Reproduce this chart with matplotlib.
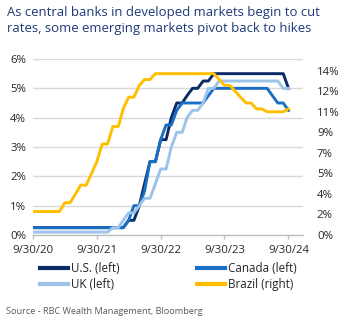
import numpy as np
import pandas as pd
import matplotlib
matplotlib.use("Agg")
import matplotlib.pyplot as plt
import matplotlib.dates as mdates
from matplotlib.lines import Line2D

# ---------------- data (month-end policy rates, %) ----------------
dates = pd.date_range("2020-09-30", "2024-09-30", freq="ME")

us = ([0.25] * 18 +
      [0.5, 0.5, 1.0, 1.75, 2.5, 2.5, 3.25, 3.25, 4.0, 4.5,
       4.5, 4.75, 5.0, 5.0, 5.25, 5.25, 5.5] +
      [5.5] * 13 + [5.0])

canada = ([0.25] * 18 +
          [0.5, 1.0, 1.0, 1.5, 2.5, 2.5, 3.25, 3.75, 3.75, 4.25,
           4.5, 4.5, 4.5, 4.5, 4.5, 4.75, 5.0] +
          [5.0] * 10 + [4.75, 4.5, 4.5, 4.25])

uk = ([0.1] * 15 +
      [0.25, 0.25, 0.5, 0.75, 0.75, 1.0, 1.25, 1.25, 1.75, 2.25,
       2.25, 3.0, 3.5, 3.5, 4.0, 4.25, 4.25, 4.5, 5.0, 5.0] +
      [5.25] * 12 + [5.0, 5.0])

brazil = ([2.0] * 6 +
          [2.75, 2.75, 3.5, 4.25, 4.25, 5.25, 6.25, 7.75, 7.75, 9.25,
           9.25, 10.75, 11.75, 11.75, 12.75, 13.25, 13.25] +
          [13.75] * 12 +
          [13.25, 12.75, 12.75, 12.25, 11.75, 11.25, 11.25, 10.75, 10.75,
           10.5, 10.5, 10.5, 10.5, 10.75])

series_names = ["U.S. (left)", "Canada (left)", "UK (left)", "Brazil (right)"]
left_ticks = [0, 1, 2, 3, 4, 5, 6]
left_labels = ["0%", "1%", "2%", "3%", "4%", "5%", "6%"]
right_ticks = [0, 1.75, 3.5, 5.25, 7, 8.75, 10.5, 12.25, 14]
right_labels = ["0%", "2%", "4%", "5%", "7%", "9%", "11%", "12%", "14%"]
x_tick_dates = ["2020-09-30", "2021-09-30", "2022-09-30", "2023-09-30", "2024-09-30"]
x_tick_labels = ["9/30/20", "9/30/21", "9/30/22", "9/30/23", "9/30/24"]

title = ("As central banks in developed markets begin to cut\n"
         "rates, some emerging markets pivot back to hikes")
source = "Source - RBC Wealth Management, Bloomberg"

# ---------------- style ----------------
C_US = "#0c2a66"
C_CA = "#1a6fc4"
C_UK = "#9cc3ea"
C_BR = "#ffbf00"
TXT = "#262626"
FONT = "Open Sans"
plt.rcParams["font.family"] = [FONT, "DejaVu Sans"]

W, H = 347, 326
fig = plt.figure(figsize=(W / 100, H / 100), dpi=100)

def fx(px):
    return px / W

def fy(py):
    return 1 - py / H

ax = fig.add_axes([fx(33), fy(235), fx(303) - fx(33), fy(59) - fy(235)])
ax2 = ax.twinx()

lw = 2.1
l_us, = ax.plot(dates, us, color=C_US, lw=lw, solid_joinstyle="round", zorder=3)
l_ca, = ax.plot(dates, canada, color=C_CA, lw=lw, solid_joinstyle="round", zorder=4)
l_uk, = ax.plot(dates, uk, color=C_UK, lw=lw, solid_joinstyle="round", zorder=5)
l_br, = ax2.plot(dates, brazil, color=C_BR, lw=lw, solid_joinstyle="round", zorder=3)

ax.set_ylim(0, 6)
ax2.set_ylim(0, 15)
ax.set_xlim(pd.Timestamp("2020-09-30"), pd.Timestamp("2024-12-22"))

ax.set_yticks(left_ticks)
ax.set_yticklabels(left_labels)
ax2.set_yticks(right_ticks)
ax2.set_yticklabels(right_labels)

xt = [pd.Timestamp(d) for d in x_tick_dates]
ax.set_xticks(xt)
ax.set_xticklabels(x_tick_labels)

ax.grid(axis="y", color="#d9d9d9", lw=1.0)
ax.set_axisbelow(True)

for a in (ax, ax2):
    for s in ("top", "right", "left"):
        a.spines[s].set_visible(False)
    a.spines["bottom"].set_visible(False)
ax.spines["bottom"].set_visible(True)
ax.spines["bottom"].set_color("#bfbfbf")
ax.spines["bottom"].set_linewidth(1.0)

ax.tick_params(axis="y", length=0, pad=5, labelsize=8.2, labelcolor=TXT)
ax2.tick_params(axis="y", length=0, pad=10, labelsize=8.2, labelcolor=TXT)
ax.tick_params(axis="x", length=3, width=1, color="#bfbfbf", pad=4,
               labelsize=8.2, labelcolor=TXT)

# title
fig.text(fx(7), fy(6), title, ha="left", va="top", fontsize=9.45,
         color="#1f3a78", linespacing=1.33)

# legends
h1 = [Line2D([], [], color=C_US, lw=3), Line2D([], [], color=C_UK, lw=3)]
h2 = [Line2D([], [], color=C_CA, lw=3), Line2D([], [], color=C_BR, lw=3)]
kw = dict(frameon=False, loc="upper left", borderpad=0, borderaxespad=0,
          handlelength=2.4, handletextpad=0.25, labelspacing=0.25,
          fontsize=8.4, labelcolor=TXT)
fig.legend(h1, [series_names[0], series_names[2]],
           bbox_to_anchor=(fx(40), fy(262)), **kw)
fig.legend(h2, [series_names[1], series_names[3]],
           bbox_to_anchor=(fx(197), fy(262)), **kw)

fig.text(fx(6), fy(311), source, ha="left", va="center", fontsize=6.55,
         color="#595959")

fig.savefig("out.png", dpi=100)
